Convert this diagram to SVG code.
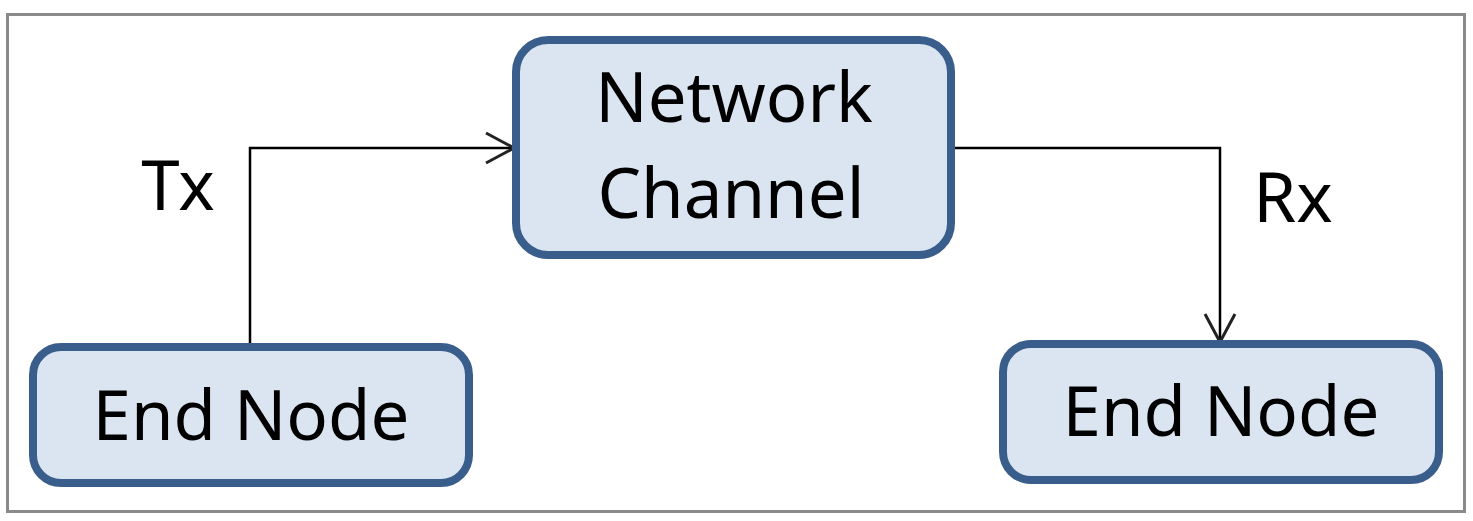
<svg xmlns="http://www.w3.org/2000/svg" width="1473" height="521" viewBox="0 0 1473 521">
<style>
.node{fill:#dbe5f1;stroke:#3a5e8b;stroke-width:8}
.lbl{font-family:"Noto Sans","Liberation Sans",sans-serif;font-size:69px;fill:#000;text-anchor:middle}
.con{fill:none;stroke:#000;stroke-width:2.5}
</style>
<defs>
<marker id="arr" markerUnits="userSpaceOnUse" markerWidth="40" markerHeight="40" refX="30" refY="16" orient="auto" overflow="visible">
<path d="M2,1 L30,16 L2,31" fill="none" stroke="#222" stroke-width="3"/>
</marker>
</defs>
<rect x="0" y="0" width="1473" height="521" fill="#fff"/>
<rect x="7.5" y="14.5" width="1457" height="497" fill="#fff" stroke="#8a8a8a" stroke-width="3"/>
<g id="connectors">
<path class="con" d="M250,347 V148 H514" marker-end="url(#arr)"/>
<path class="con" d="M955,148 H1220 V342" marker-end="url(#arr)"/>
</g>
<g id="network-channel">
<rect class="node" x="516" y="40" width="435" height="215" rx="32"/>
<text class="lbl" x="734" y="122">Network</text>
<text class="lbl" x="731" y="218">Channel</text>
</g>
<g id="end-node-left">
<rect class="node" x="33" y="347" width="436" height="136" rx="28"/>
<text class="lbl" x="251" y="440">End Node</text>
</g>
<g id="end-node-right">
<rect class="node" x="1003" y="344" width="436" height="136" rx="28"/>
<text class="lbl" x="1221" y="436">End Node</text>
</g>
<g id="labels">
<text class="lbl" x="178" y="210">Tx</text>
<text class="lbl" x="1293" y="222">Rx</text>
</g>
</svg>
